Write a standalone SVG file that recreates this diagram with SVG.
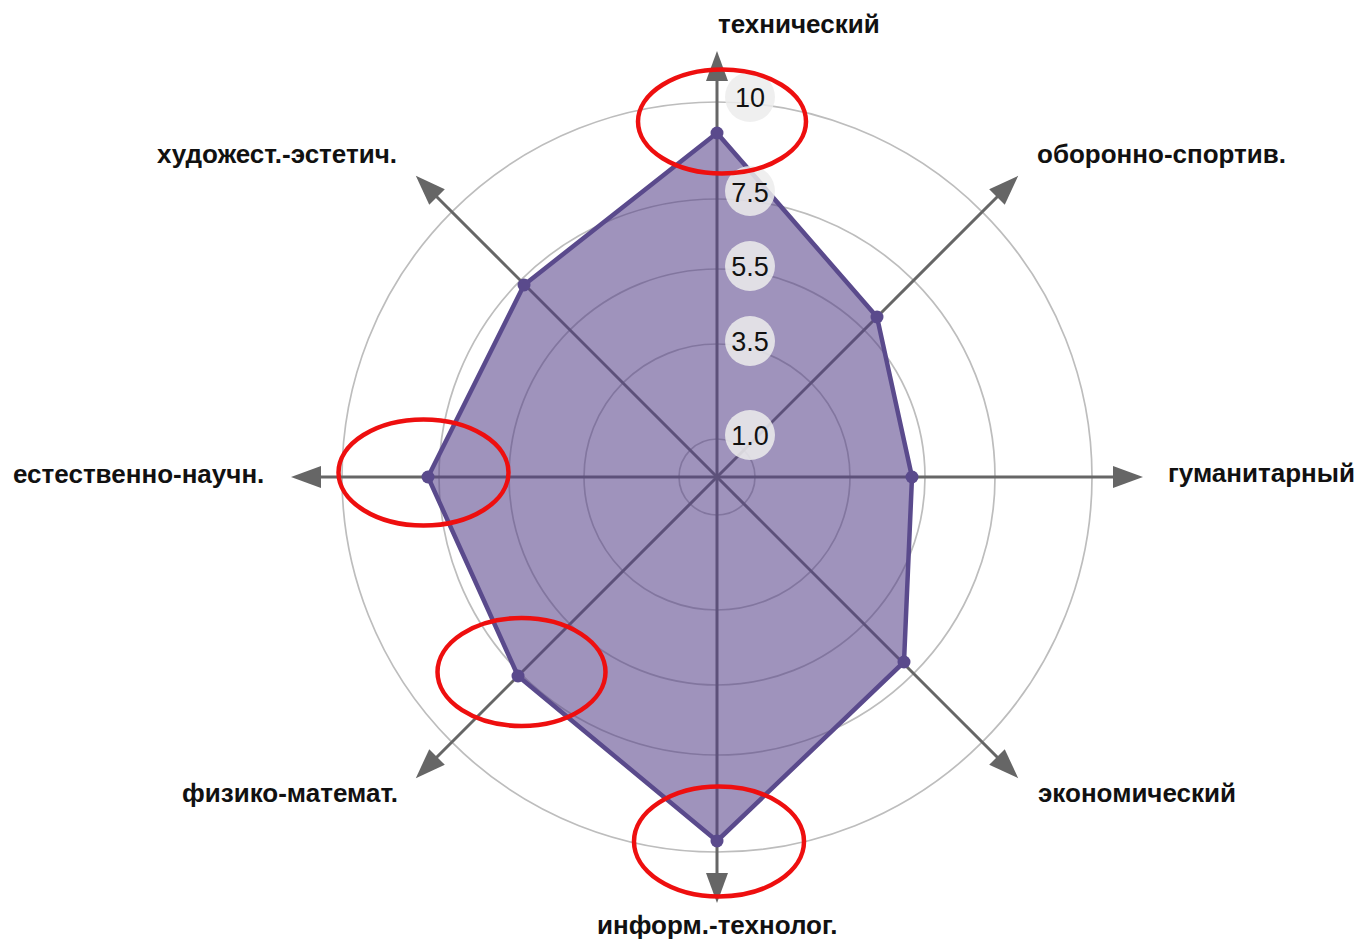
<svg xmlns="http://www.w3.org/2000/svg" width="1363" height="939" viewBox="0 0 1363 939">
<defs>
<style>
.grid{fill:none;stroke:#bdbdbd;stroke-width:1.7}
.axis{stroke:#666;stroke-width:3;fill:none;marker-end:url(#arr)}
.lbl{font-family:"Liberation Sans",Arial,sans-serif;font-weight:bold;font-size:26px;fill:#111}
.tick{font-family:"Liberation Sans",Arial,sans-serif;font-size:27px;fill:#111;text-anchor:middle}
.tickbg{fill:#ececec;fill-opacity:0.85}
.dot{fill:#5a4a8c}
.mark{fill:none;stroke:#ee0f0f;stroke-width:4.5}
</style>
<marker id="arr" markerUnits="userSpaceOnUse" markerWidth="32" markerHeight="24" refX="4" refY="11" orient="auto">
<path d="M0,0 L30,11 L0,22 z" fill="#666"/>
</marker>
</defs>
<rect width="1363" height="939" fill="#fff"/>
<g id="grid">
<circle class="grid" cx="717" cy="477" r="38"/>
<circle class="grid" cx="717" cy="477" r="133"/>
<circle class="grid" cx="717" cy="477" r="208"/>
<circle class="grid" cx="717" cy="477" r="278"/>
<circle class="grid" cx="717" cy="477" r="375"/>
</g>
<g id="connectors">
<line class="axis" x1="717" y1="477" x2="717" y2="77"/>
<line class="axis" x1="717" y1="477" x2="999.8" y2="194.2"/>
<line class="axis" x1="717" y1="477" x2="1117" y2="477"/>
<line class="axis" x1="717" y1="477" x2="999.8" y2="759.8"/>
<line class="axis" x1="717" y1="477" x2="717" y2="877"/>
<line class="axis" x1="717" y1="477" x2="434.2" y2="759.8"/>
<line class="axis" x1="717" y1="477" x2="317" y2="477"/>
<line class="axis" x1="717" y1="477" x2="434.2" y2="194.2"/>
</g>
<g id="series">
<polygon points="717,133 877,317 912,477 904,662 717,841 518,676 428,477 524,285" fill="#56418a" fill-opacity="0.57" stroke="#5a4a8c" stroke-width="4.5" stroke-linejoin="round"/>
<circle class="dot" cx="717" cy="133" r="6.5"/>
<circle class="dot" cx="877" cy="317" r="6.5"/>
<circle class="dot" cx="912" cy="477" r="6.5"/>
<circle class="dot" cx="904" cy="662" r="6.5"/>
<circle class="dot" cx="717" cy="841" r="6.5"/>
<circle class="dot" cx="518" cy="676" r="6.5"/>
<circle class="dot" cx="428" cy="477" r="6.5"/>
<circle class="dot" cx="524" cy="285" r="6.5"/>
</g>
<g id="ticks">
<circle class="tickbg" cx="750" cy="97" r="25"/><text class="tick" x="750" y="107">10</text>
<circle class="tickbg" cx="750" cy="191" r="25"/><text class="tick" x="750" y="202">7.5</text>
<circle class="tickbg" cx="750" cy="266" r="25"/><text class="tick" x="750" y="276">5.5</text>
<circle class="tickbg" cx="750" cy="341" r="25"/><text class="tick" x="750" y="351">3.5</text>
<circle class="tickbg" cx="750" cy="435" r="25"/><text class="tick" x="750" y="445">1.0</text>
</g>
<g id="n-tech"><text class="lbl" x="718" y="33">технический</text></g>
<g id="n-def"><text class="lbl" x="1037" y="163">оборонно-спортив.</text></g>
<g id="n-hum"><text class="lbl" x="1168" y="482">гуманитарный</text></g>
<g id="n-eco"><text class="lbl" x="1038" y="802">экономический</text></g>
<g id="n-inf"><text class="lbl" x="597" y="934">информ.-технолог.</text></g>
<g id="n-phys"><text class="lbl" x="182" y="802">физико-математ.</text></g>
<g id="n-nat"><text class="lbl" x="13" y="483">естественно-научн.</text></g>
<g id="n-art"><text class="lbl" x="157" y="163">художест.-эстетич.</text></g>
<g id="highlights">
<ellipse class="mark" cx="722" cy="121.5" rx="84" ry="52"/>
<ellipse class="mark" cx="423.5" cy="472.5" rx="85" ry="53"/>
<ellipse class="mark" cx="521.5" cy="672" rx="84" ry="54"/>
<ellipse class="mark" cx="719" cy="841.5" rx="85" ry="55"/>
</g>
</svg>
